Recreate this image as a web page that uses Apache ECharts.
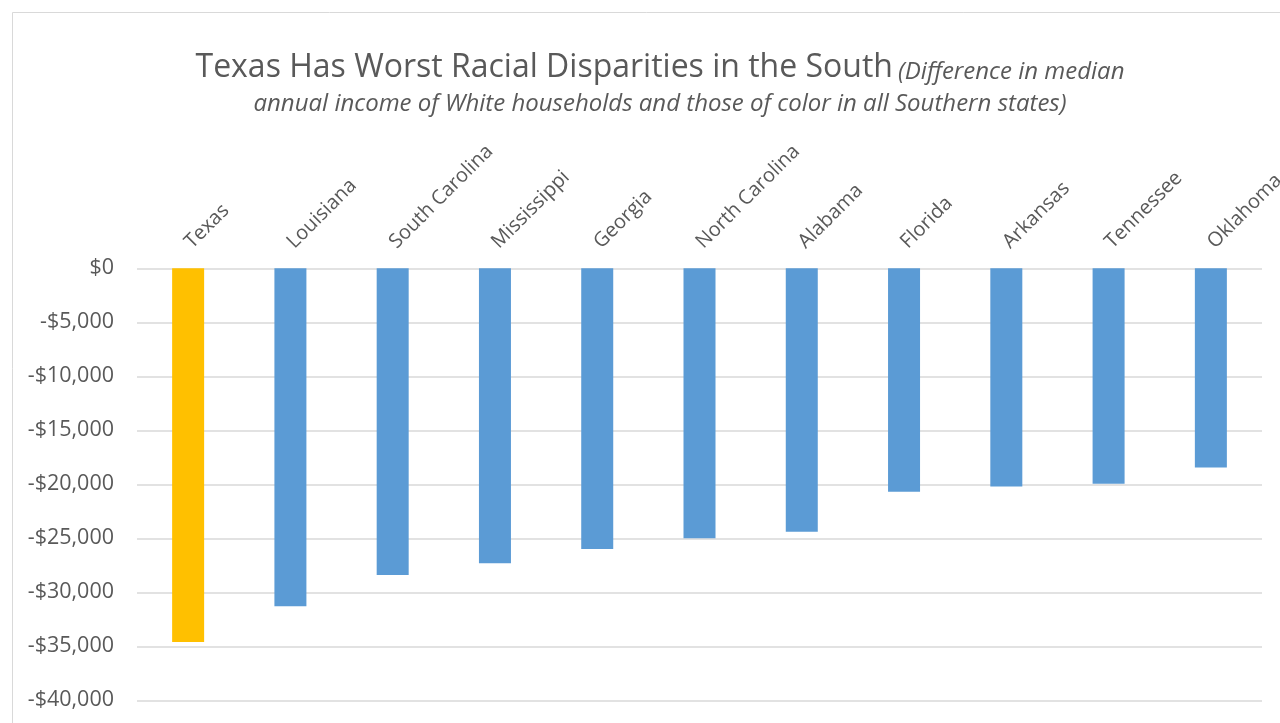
<!DOCTYPE html>
<html>
<head>
<meta charset="utf-8">
<script src="https://cdn.jsdelivr.net/npm/echarts@6/dist/echarts.min.js"></script>
<style>
html,body{margin:0;padding:0;background:#fff;}
#main{width:1280px;height:723px;}
</style>
</head>
<body>
<div id="main"></div>
<script>
var states = ['Texas','Louisiana','South Carolina','Mississippi','Georgia','North Carolina','Alabama','Florida','Arkansas','Tennessee','Oklahoma'];
var disparity = [-34600,-31300,-28400,-27300,-26000,-25000,-24400,-20700,-20200,-19950,-18450];
var highlightState = 'Texas';
var titleMain = 'Texas Has Worst Racial Disparities in the South';
var titleNote1 = '(Difference in median';
var titleNote2 = 'annual income of White households and those of color in all Southern states)';

var FONT = 'Open Sans';
var chart = echarts.init(document.getElementById('main'));
chart.setOption({
  backgroundColor: '#fff',
  animation: false,
  graphic: [{
    type: 'rect',
    shape: {x: 12.5, y: 12.5, width: 1400, height: 1000},
    style: {fill: 'none', stroke: '#d9d9d9', lineWidth: 1},
    silent: true,
    z: -10
  }],
  title: {
    left: 655,
    top: 41,
    textAlign: 'center',
    text: '{a|' + titleMain + '} {c|' + titleNote1 + '}\n{b|' + titleNote2 + '}',
    textStyle: {
      fontWeight: 'normal',
      rich: {
        a: {fontFamily: FONT, fontSize: 32, fontWeight: 'normal', color: '#595959', lineHeight: 38, verticalAlign: 'bottom'},
        c: {fontFamily: FONT, fontSize: 24, fontWeight: 'normal', fontStyle: 'italic', color: '#595959', lineHeight: 34, verticalAlign: 'bottom'},
        b: {fontFamily: FONT, fontSize: 24, fontWeight: 'normal', fontStyle: 'italic', color: '#595959', lineHeight: 40}
      }
    }
  },
  grid: {left: 137, right: 18, top: 268.3, bottom: 22.7, containLabel: false, outerBoundsMode: 'none'},
  xAxis: {
    type: 'category',
    position: 'top',
    data: states,
    axisLine: {show: false},
    axisTick: {show: false},
    axisLabel: {
      rotate: 45,
      margin: 23,
      color: '#595959',
      fontFamily: FONT,
      fontSize: 20,
      interval: 0,
      hideOverlap: false
    }
  },
  yAxis: {
    type: 'value',
    min: -40000,
    max: 0,
    interval: 5000,
    axisLine: {show: false},
    axisTick: {show: false},
    splitLine: {lineStyle: {color: '#d9d9d9', width: 1.5}},
    axisLabel: {
      margin: 23,
      color: '#595959',
      fontFamily: FONT,
      fontSize: 21.5,
      formatter: function (v) {
        return (v < 0 ? '-$' : '$') + Math.abs(v).toLocaleString('en-US');
      }
    }
  },
  series: [{
    type: 'bar',
    data: disparity.map(function (v, i) {
      return {value: v, itemStyle: {color: states[i] === highlightState ? '#FFC000' : '#5B9BD5'}};
    }),
    barWidth: 32
  }]
});
</script>
</body>
</html>
